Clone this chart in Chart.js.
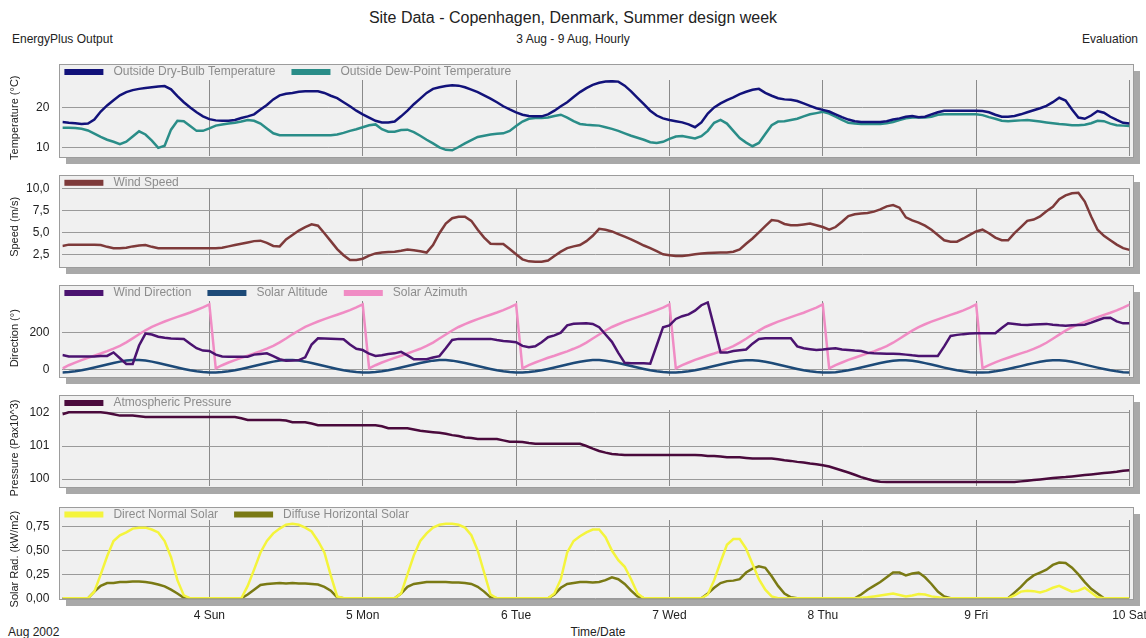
<!DOCTYPE html>
<html>
<head>
<meta charset="UTF-8">
<title>Site Data - Copenhagen, Denmark</title>
<script src="https://cdn.jsdelivr.net/npm/chart.js"></script>
<style>
body { margin: 0; background: #fff; }
#page { position: relative; width: 1146px; height: 638px; overflow: hidden;
	font-family: "Liberation Sans", Arial, sans-serif; color: #222; }
#page canvas { position: absolute; left: 0; top: 0; }
.txt { position: absolute; white-space: nowrap; line-height: 1; }
</style>
</head>
<body>
<div id="page">
	<div class="txt" style="left:0;width:1146px;text-align:center;top:10px;font-size:16px">Site Data - Copenhagen, Denmark, Summer design week</div>
	<div class="txt" style="left:0;width:1146px;text-align:center;top:33px;font-size:12px">3 Aug - 9 Aug, Hourly</div>
	<div class="txt" style="left:12px;top:33px;font-size:12px">EnergyPlus Output</div>
	<div class="txt" style="right:8px;top:33px;font-size:12px">Evaluation</div>
	<div class="txt" style="left:8px;top:626px;font-size:12px">Aug 2002</div>
	<div class="txt" style="left:0;width:1196px;text-align:center;top:626px;font-size:12px">Time/Date</div>
	<canvas id="p1" width="1146" height="638"></canvas>
	<canvas id="p2" width="1146" height="638"></canvas>
	<canvas id="p3" width="1146" height="638"></canvas>
	<canvas id="p4" width="1146" height="638"></canvas>
	<canvas id="p5" width="1146" height="638"></canvas>
</div>

<script>
	// hour index 1..168 (3 Aug 01:00 .. 10 Aug 00:00)
	const hours = Array.from({ length: 168 }, (_, i) => i + 1);
	const dayTicks = [24, 48, 72, 96, 120, 144, 168];
	const dayLabels = ['4 Sun', '5 Mon', '6 Tue', '7 Wed', '8 Thu', '9 Fri', '10 Sat'];

	const tempTicks = [10, 20];
	const speedTicks = [2.5, 5, 7.5, 10];
	const dirTicks = [0, 200];
	const pressTicks = [100, 101, 102];
	const solarTicks = [0, 0.25, 0.5, 0.75];

	const dryBulb = [
		16.4,16.2,16.1,15.9,16.0,17.0,19.0,20.5,21.8,23.0,23.8,24.3,24.6,24.8,25.0,25.2,25.3,24.5,22.8,21.3,20.0,18.8,17.8,17.1,
		16.8,16.7,16.7,16.9,17.4,17.8,18.3,19.5,20.6,22.0,23.0,23.4,23.6,23.9,24.0,24.0,24.0,23.6,22.9,22.3,21.3,20.3,19.2,18.3,
		17.5,16.7,16.3,16.3,16.5,17.8,19.2,20.8,22.2,23.6,24.6,25.0,25.3,25.5,25.4,25.0,24.4,23.8,23.0,22.2,21.3,20.3,19.5,18.8,
		18.2,17.9,17.8,17.8,18.3,19.2,20.3,21.3,22.6,23.8,24.8,25.6,26.1,26.4,26.5,26.4,25.4,24.0,22.4,20.8,19.2,18.0,17.3,16.9,
		16.6,16.3,15.8,15.1,16.3,18.5,20.0,21.0,21.8,22.5,23.3,23.9,24.4,24.6,23.6,22.9,22.3,22.0,21.9,21.6,21.0,20.4,19.8,19.4,
		19.0,18.3,17.6,17.0,16.6,16.4,16.4,16.4,16.4,16.6,17.0,17.3,17.7,17.9,17.6,17.7,18.3,18.8,19.2,19.2,19.2,19.2,19.2,19.2,
		19.1,18.8,18.2,17.7,17.7,17.9,18.3,18.8,19.3,19.8,20.4,21.3,22.4,21.7,19.5,17.5,17.2,18.0,19.1,18.7,17.7,16.9,16.2,16.0
	];
	const dewPoint = [
		15.0,15.0,14.9,14.7,14.3,13.5,12.7,12.0,11.5,10.9,11.5,12.8,14.1,13.3,11.8,10.0,10.5,14.5,16.7,16.6,15.4,14.2,14.2,14.8,
		15.5,15.8,16.0,16.2,16.5,16.9,16.7,16.0,14.8,13.6,13.1,13.1,13.1,13.1,13.1,13.1,13.1,13.1,13.1,13.3,13.7,14.2,14.6,15.1,
		15.6,15.8,14.6,14.0,14.0,14.4,14.5,13.9,13.0,12.0,11.1,10.1,9.5,9.4,10.2,11.1,11.9,12.7,13.0,13.3,13.5,13.6,14.2,15.4,
		16.5,17.2,17.4,17.4,17.5,17.9,18.2,17.5,16.6,15.9,15.7,15.6,15.5,15.1,14.7,14.2,13.6,13.0,12.5,12.0,11.4,11.2,11.5,12.2,
		12.8,12.9,12.6,12.3,12.9,14.2,16.2,16.9,16.0,14.2,12.4,11.3,10.4,11.2,13.4,15.6,16.5,16.6,16.9,17.2,17.8,18.3,18.6,18.9,
		18.5,17.7,16.9,16.2,16.0,15.9,15.9,15.9,15.9,16.1,16.4,16.9,17.3,17.5,17.5,17.5,17.7,18.2,18.3,18.3,18.3,18.3,18.3,18.3,
		18.1,17.6,17.2,16.7,16.6,16.7,16.8,16.9,16.7,16.5,16.3,16.1,15.9,15.8,15.6,15.6,15.7,16.1,16.7,16.6,16.0,15.6,15.5,15.4
	];
	const windSpeed = [
		3.45,3.6,3.6,3.6,3.6,3.6,3.55,3.35,3.2,3.2,3.25,3.4,3.5,3.55,3.35,3.2,3.2,3.2,3.2,3.2,3.2,3.2,3.2,3.2,
		3.2,3.25,3.4,3.55,3.7,3.85,4.0,4.05,3.8,3.45,3.4,4.2,4.7,5.2,5.6,5.9,5.75,4.9,4.0,3.1,2.4,1.85,1.85,2.0,
		2.35,2.6,2.7,2.75,2.8,2.9,3.05,2.95,2.85,2.7,3.56,4.9,6.0,6.6,6.77,6.77,6.3,5.3,4.4,3.7,3.67,3.67,3.1,2.5,
		1.93,1.7,1.66,1.66,1.8,2.3,2.8,3.2,3.4,3.56,4.0,4.6,5.4,5.3,5.1,4.8,4.5,4.2,3.85,3.5,3.2,2.85,2.5,2.4,
		2.3,2.3,2.4,2.5,2.6,2.65,2.68,2.7,2.7,2.8,3.05,3.7,4.3,5.0,5.7,6.4,6.3,5.95,5.8,5.8,5.9,6.0,5.8,5.6,
		5.3,5.6,6.2,6.85,7.05,7.15,7.2,7.35,7.6,7.95,8.1,7.8,6.7,6.35,6.1,5.75,5.3,4.7,4.1,3.93,3.93,4.3,4.7,5.1,
		5.3,4.9,4.4,4.1,4.1,4.9,5.6,6.3,6.45,6.8,7.4,7.9,8.75,9.2,9.43,9.5,8.5,6.8,5.3,4.6,4.1,3.6,3.2,3.0
	];
	const windDir = [
		78,70,70,70,70,70,72,73,92,60,29,29,130,195,190,178,172,168,167,166,140,115,102,100,
		80,70,69,69,69,69,80,84,87,72,55,47,48,50,65,135,169,168,167,166,164,135,112,105,
		85,73,77,84,87,95,76,55,55,55,64,72,115,160,166,166,166,166,166,166,160,155,152,148,
		128,120,126,148,175,185,200,240,249,250,251,248,230,190,150,90,35,33,33,33,30,130,230,240,
		275,290,300,320,350,365,230,91,91,100,104,108,140,165,169,169,169,169,169,125,115,110,105,108,
		112,115,108,105,102,100,90,87,86,85,85,84,80,76,73,73,73,73,125,182,188,192,195,197,
		197,197,197,225,251,247,243,242,244,246,248,243,240,238,240,242,243,255,268,280,282,262,251,251
	];
	const solarAlt = [
		-17.0,-14.8,-10.7,-5.0,2.0,9.8,18.1,26.5,34.7,41.9,47.6,50.7,50.7,47.6,41.9,34.7,26.5,18.1,9.8,2.0,-5.0,-10.7,-14.8,-17.0,
		-17.1,-14.9,-10.8,-5.1,1.9,9.7,18.0,26.4,34.6,41.8,47.4,50.5,50.5,47.4,41.7,34.5,26.3,18.0,9.6,1.9,-5.1,-10.8,-14.9,-17.2,
		-17.3,-15.0,-11.0,-5.2,1.8,9.6,17.9,26.2,34.4,41.6,47.2,50.3,50.3,47.2,41.5,34.3,26.1,17.8,9.5,1.8,-5.2,-11.0,-15.0,-17.4,
		-17.5,-15.2,-11.1,-5.3,1.7,9.5,17.8,26.1,34.2,41.4,47.0,50.0,50.0,47.0,41.3,34.1,26.0,17.7,9.4,1.7,-5.3,-11.1,-15.2,-17.6,
		-17.7,-15.4,-11.2,-5.4,1.6,9.4,17.6,25.9,34.0,41.2,46.8,49.8,49.8,46.8,41.1,33.9,25.8,17.5,9.3,1.6,-5.4,-11.2,-15.4,-17.8,
		-17.9,-15.6,-11.3,-5.5,1.5,9.3,17.5,25.8,33.8,41.0,46.5,49.5,49.5,46.5,40.9,33.7,25.6,17.4,9.2,1.5,-5.5,-11.3,-15.6,-18.0,
		-18.1,-15.8,-11.4,-5.6,1.4,9.2,17.3,25.6,33.6,40.8,46.3,49.3,49.3,46.3,40.7,33.5,25.4,17.3,9.1,1.4,-5.6,-11.4,-15.8,-18.2
	];
	const solarAzi = [
		4,22,36,50,62,74,86,99,113,128,147,169,191,213,232,247,261,274,286,298,310,324,338,355,
		5,22,37,50,62,74,86,99,113,128,147,168,191,212,232,247,261,274,286,298,310,323,338,355,
		5,22,37,50,62,74,86,99,112,128,146,168,190,212,231,247,261,274,286,298,310,323,338,354,
		5,23,37,50,63,74,86,98,112,127,146,168,190,212,231,246,260,273,285,297,310,323,337,354,
		5,23,37,51,63,75,86,98,112,127,146,167,190,211,231,246,260,273,285,297,309,323,337,354,
		5,23,37,51,63,75,87,98,112,127,145,167,189,211,230,246,260,273,285,297,309,322,337,354,
		6,23,38,51,63,75,87,98,111,126,145,167,189,211,230,245,259,272,285,297,309,322,337,353
	];
	const pressure = [
		101.96,102.02,102.02,102.02,102.02,102.02,102.02,102.0,101.96,101.92,101.92,101.92,101.9,101.88,101.88,101.88,101.88,101.88,101.88,101.88,101.88,101.88,101.88,101.88,
		101.88,101.88,101.88,101.88,101.84,101.79,101.79,101.79,101.79,101.79,101.79,101.77,101.72,101.72,101.72,101.68,101.63,101.63,101.63,101.63,101.63,101.63,101.63,101.63,
		101.63,101.63,101.6,101.54,101.54,101.54,101.54,101.5,101.46,101.44,101.42,101.4,101.37,101.33,101.3,101.26,101.24,101.21,101.21,101.21,101.21,101.17,101.13,101.13,
		101.12,101.09,101.07,101.07,101.07,101.07,101.07,101.07,101.07,101.07,101.0,100.92,100.85,100.8,100.76,100.74,100.73,100.73,100.73,100.73,100.73,100.73,100.73,100.73,
		100.73,100.73,100.73,100.73,100.72,100.7,100.7,100.68,100.66,100.66,100.66,100.64,100.62,100.62,100.62,100.62,100.6,100.57,100.55,100.52,100.5,100.47,100.45,100.42,
		100.38,100.32,100.26,100.2,100.13,100.06,100.0,99.95,99.92,99.91,99.91,99.91,99.91,99.91,99.91,99.91,99.91,99.91,99.91,99.91,99.91,99.91,99.91,99.91,
		99.91,99.91,99.91,99.91,99.91,99.91,99.93,99.95,99.97,99.99,100.01,100.03,100.05,100.06,100.08,100.1,100.12,100.14,100.16,100.18,100.2,100.22,100.25,100.27
	];
	const directNormal = [
		0,0,0,0,0,0.07,0.25,0.44,0.6,0.66,0.69,0.73,0.74,0.74,0.72,0.69,0.6,0.43,0.19,0.03,0,0,0,0,
		0,0,0,0,0,0.13,0.3,0.48,0.6,0.68,0.73,0.77,0.78,0.77,0.74,0.7,0.6,0.48,0.24,0.02,0,0,0,0,
		0,0,0,0,0,0.05,0.25,0.45,0.6,0.68,0.74,0.77,0.78,0.78,0.77,0.74,0.66,0.5,0.27,0.04,0,0,0,0,
		0,0,0,0,0,0.05,0.2,0.48,0.6,0.65,0.69,0.72,0.72,0.64,0.5,0.4,0.33,0.2,0.05,0,0,0,0,0,
		0,0,0,0,0,0.04,0.19,0.38,0.56,0.62,0.62,0.52,0.36,0.2,0.09,0.02,0,0,0,0,0,0,0,0,
		0,0,0,0,0,0.005,0.01,0.02,0.03,0.04,0.05,0.035,0.02,0.03,0.045,0.04,0.02,0.01,0,0,0,0,0,0,
		0,0,0,0,0,0.03,0.07,0.08,0.075,0.06,0.08,0.11,0.13,0.1,0.07,0.08,0.11,0.06,0.01,0,0,0,0,0
	];
	const diffuseHoriz = [
		0,0,0,0,0,0.07,0.13,0.16,0.16,0.17,0.17,0.175,0.175,0.17,0.16,0.145,0.125,0.09,0.05,0.005,0,0,0,0,
		0,0,0,0,0,0.04,0.09,0.14,0.15,0.155,0.16,0.155,0.16,0.155,0.155,0.15,0.145,0.12,0.08,0.01,0,0,0,0,
		0,0,0,0,0,0.05,0.12,0.15,0.16,0.17,0.17,0.17,0.17,0.165,0.165,0.16,0.15,0.12,0.07,0.01,0,0,0,0,
		0,0,0,0,0,0.04,0.11,0.15,0.16,0.17,0.17,0.165,0.17,0.19,0.22,0.2,0.15,0.08,0.02,0,0,0,0,0,
		0,0,0,0,0,0.05,0.11,0.16,0.18,0.185,0.2,0.27,0.31,0.335,0.32,0.23,0.13,0.05,0.01,0,0,0,0,0,
		0,0,0,0,0,0.04,0.09,0.13,0.17,0.22,0.27,0.27,0.24,0.26,0.27,0.22,0.15,0.07,0.02,0,0,0,0,0,
		0,0,0,0,0,0.06,0.12,0.19,0.24,0.27,0.3,0.35,0.375,0.37,0.32,0.25,0.17,0.1,0.05,0,0,0,0,0
	];

	Chart.defaults.font.family = '"Liberation Sans", Arial, sans-serif';

	// grey panel with drop shadow, legend drawn in the band above the plot
	const panelFrame = {
		id: 'panelFrame',
		beforeDraw(chart, args, opts) {
			const { ctx, chartArea: a } = chart;
			const x = Math.round(a.left - 3), y = Math.round(a.top - opts.band);
			const w = Math.round(a.right + 3) - x, h = Math.round(a.bottom + 1) - y;
			ctx.save();
			ctx.fillStyle = '#a9a9a9';
			ctx.fillRect(x + 7, y + 7, w, h);
			ctx.fillStyle = '#f0f0f0';
			ctx.fillRect(x, y, w, h);
			ctx.strokeStyle = '#9c9c9c';
			ctx.lineWidth = 1;
			ctx.strokeRect(x + 0.5, y + 0.5, w, h);
			ctx.restore();
		},
		afterDraw(chart, args, opts) {
			const { ctx, chartArea: a } = chart;
			let x = a.left + 2;
			const yMid = a.top - opts.band + 8;
			ctx.save();
			ctx.font = '12px "Liberation Sans", Arial, sans-serif';
			ctx.textBaseline = 'middle';
			chart.data.datasets.forEach(ds => {
				ctx.fillStyle = ds.borderColor;
				ctx.fillRect(x, yMid - 3, 39, 6);
				x += 49;
				ctx.fillStyle = '#8c8c8c';
				ctx.fillText(ds.label, x, yMid);
				x += ctx.measureText(ds.label).width + 16;
			});
			ctx.restore();
		}
	};

	function comma(d) {
		return v => v.toFixed(d).replace('.', ',');
	}

	function panel(id, p) {
		// the bottom panel keeps a 30px x-axis box so its day labels are not clipped
		const xh = p.showX ? 30 : 0;
		return new Chart(document.getElementById(id), {
			type: 'line',
			data: {
				labels: hours,
				datasets: p.series.map(s => ({
					label: s.label,
					data: s.data,
					borderColor: s.color,
					backgroundColor: s.color,
					borderWidth: 2.5,
					pointRadius: 0,
					tension: 0,
					fill: false
				}))
			},
			options: {
				responsive: false,
				animation: false,
				events: [],
				layout: { padding: { top: p.top, bottom: 638 - p.bottom - xh, left: 0, right: 16.5 } },
				plugins: {
					legend: { display: false },
					tooltip: { enabled: false },
					panelFrame: { band: p.band }
				},
				scales: {
					x: {
						type: 'linear', min: 1, max: 168, bounds: 'data',
						afterBuildTicks: s => { s.ticks = dayTicks.map(v => ({ value: v })); },
						afterFit: s => { s.height = xh; s.paddingLeft = 0; s.paddingRight = 0; },
						grid: { color: '#8a8a8a', drawTicks: false },
						border: { display: false },
						ticks: {
							display: !!p.showX, autoSkip: false, maxRotation: 0, minRotation: 0,
							padding: 10, color: '#222', font: { size: 12 },
							callback: (v, i) => dayLabels[i]
						}
					},
					y: {
						min: p.min, max: p.max, bounds: 'data',
						afterBuildTicks: s => { s.ticks = p.ticks.map(v => ({ value: v })); },
						afterFit: s => { s.width = 62.4; s.paddingTop = 0; s.paddingBottom = 0; },
						grid: { color: '#9a9a9a', drawTicks: false },
						border: { display: false },
						ticks: { padding: 13, color: '#222', font: { size: 12 }, callback: comma(p.dec) },
						title: { display: true, text: p.title, color: '#222', font: { size: 11 }, padding: { top: 8, bottom: 0 } }
					}
				}
			},
			plugins: [panelFrame]
		});
	}

	panel('p1', {
		top: 80, bottom: 155.5, band: 16, min: 8.1, max: 26.8, ticks: tempTicks, dec: 0,
		title: 'Temperature (°C)',
		series: [
			{ label: 'Outside Dry-Bulb Temperature', data: dryBulb, color: '#12127a' },
			{ label: 'Outside Dew-Point Temperature', data: dewPoint, color: '#2a8d88' }
		]
	});
	panel('p2', {
		top: 188.3, bottom: 265.5, band: 13.5, min: 1.23, max: 10, ticks: speedTicks, dec: 1,
		title: 'Speed (m/s)',
		series: [
			{ label: 'Wind Speed', data: windSpeed, color: '#7e3a3a' }
		]
	});
	panel('p3', {
		top: 301, bottom: 375.5, band: 16, min: -34, max: 373, ticks: dirTicks, dec: 0,
		title: 'Direction (°)',
		series: [
			{ label: 'Wind Direction', data: windDir, color: '#4b1370' },
			{ label: 'Solar Altitude', data: solarAlt, color: '#1d4a78' },
			{ label: 'Solar Azimuth', data: solarAzi, color: '#f08cc4' }
		]
	});
	panel('p4', {
		top: 410, bottom: 486, band: 15, min: 99.79, max: 102.09, ticks: pressTicks, dec: 0,
		title: 'Pressure (Pax10^3)',
		series: [
			{ label: 'Atmospheric Pressure', data: pressure, color: '#4a0a3c' }
		]
	});
	panel('p5', {
		top: 520, bottom: 598.3, band: 13.5, min: 0, max: 0.82, ticks: solarTicks, dec: 2,
		title: 'Solar Rad. (kW/m2)', showX: true,
		series: [
			{ label: 'Direct Normal Solar', data: directNormal, color: '#f4f43c' },
			{ label: 'Diffuse Horizontal Solar', data: diffuseHoriz, color: '#7a7a14' }
		]
	});
</script>
</body>
</html>
